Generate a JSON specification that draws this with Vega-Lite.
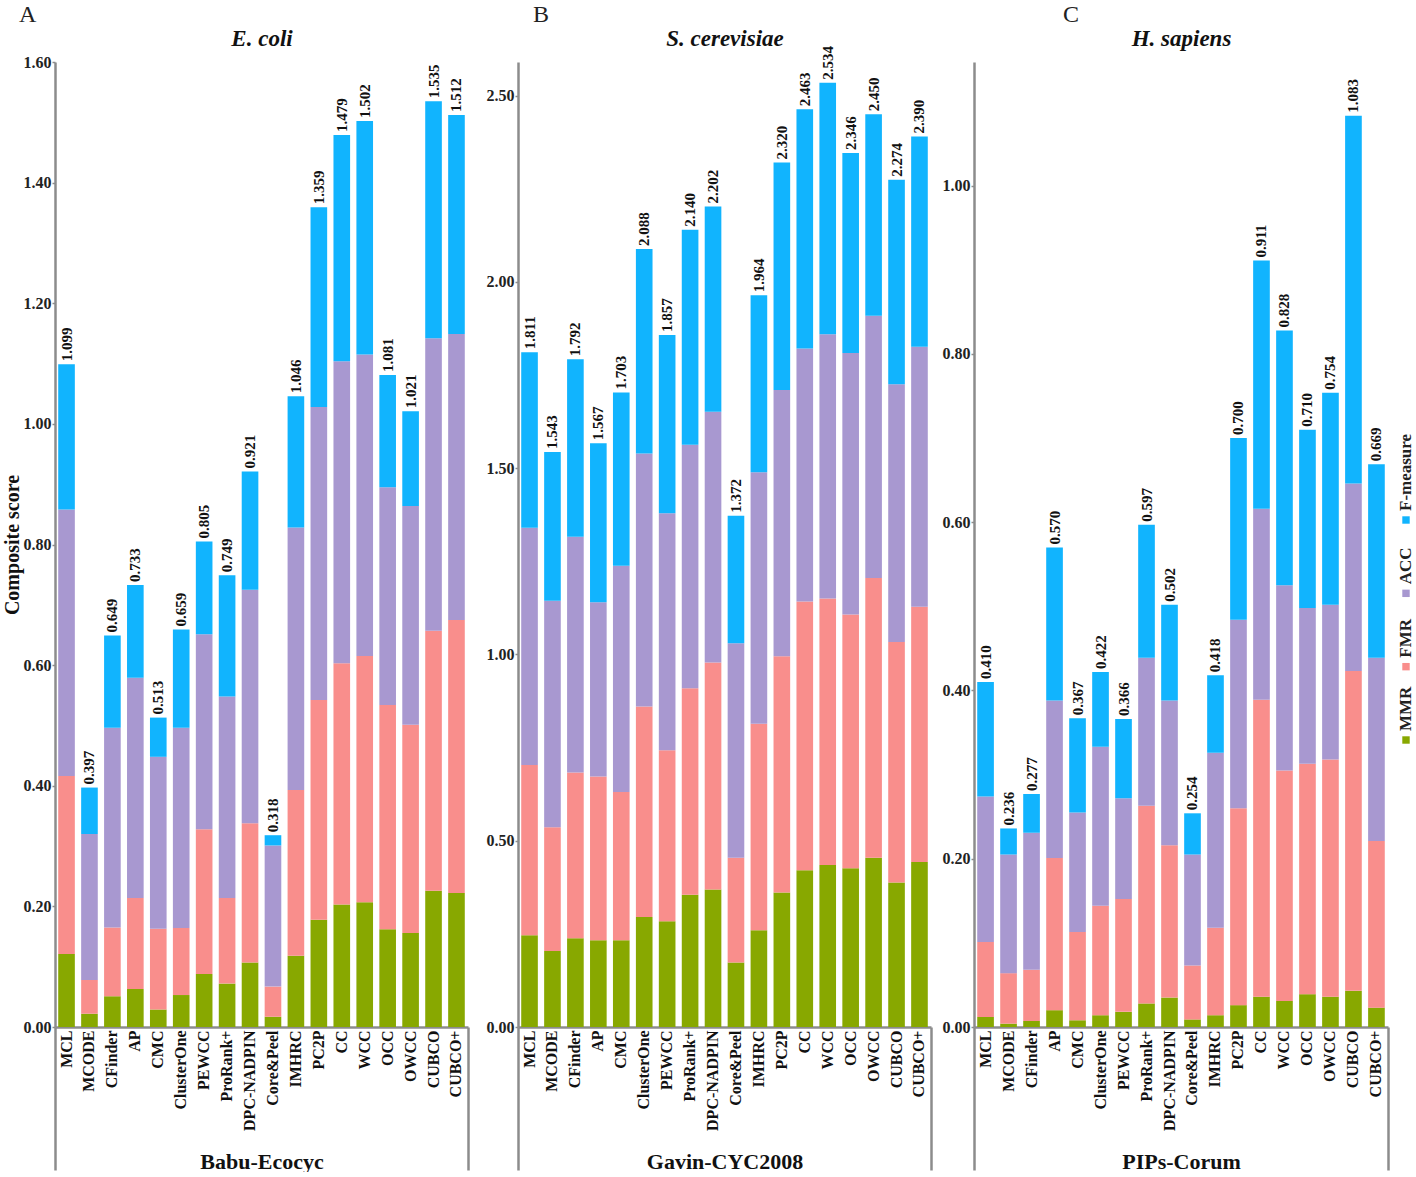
{
  "$schema": "https://vega.github.io/schema/vega-lite/v6.json",
  "padding": {"left": 2, "top": 3, "right": 0, "bottom": 0},
  "background": "white",
  "config": {
    "view": {"stroke": null},
    "font": "Liberation Serif",
    "axis": {"grid": false, "domainColor": "#8c8c8c", "domainWidth": 2.5, "tickColor": "#8c8c8c", "tickWidth": 1.5, "labelFont": "Liberation Serif", "labelFontWeight": "bold", "labelColor": "#222", "titleFont": "Liberation Serif", "titleFontWeight": "bold", "titleColor": "#111"},
    "axisY": {"tickSize": 3, "labelPadding": 1, "labelFontSize": 16},
    "title": {"font": "Liberation Serif"}
  },
  "datasets": {
    "metrics": [
      {"metric": "MMR", "rank": 1},
      {"metric": "FMR", "rank": 2},
      {"metric": "ACC", "rank": 3},
      {"metric": "F-measure", "rank": 4}
    ],
    "scores": [
      {"ds": "Babu-Ecocyc", "method": "MCL", "MMR": 0.121, "FMR": 0.295, "ACC": 0.442, "F-measure": 0.241},
      {"ds": "Babu-Ecocyc", "method": "MCODE", "MMR": 0.022, "FMR": 0.056, "ACC": 0.242, "F-measure": 0.077},
      {"ds": "Babu-Ecocyc", "method": "CFinder", "MMR": 0.051, "FMR": 0.114, "ACC": 0.331, "F-measure": 0.153},
      {"ds": "Babu-Ecocyc", "method": "AP", "MMR": 0.063, "FMR": 0.151, "ACC": 0.365, "F-measure": 0.154},
      {"ds": "Babu-Ecocyc", "method": "CMC", "MMR": 0.029, "FMR": 0.134, "ACC": 0.285, "F-measure": 0.065},
      {"ds": "Babu-Ecocyc", "method": "ClusterOne", "MMR": 0.053, "FMR": 0.111, "ACC": 0.332, "F-measure": 0.163},
      {"ds": "Babu-Ecocyc", "method": "PEWCC", "MMR": 0.088, "FMR": 0.240, "ACC": 0.323, "F-measure": 0.154},
      {"ds": "Babu-Ecocyc", "method": "ProRank+", "MMR": 0.072, "FMR": 0.142, "ACC": 0.334, "F-measure": 0.201},
      {"ds": "Babu-Ecocyc", "method": "DPC-NADPIN", "MMR": 0.107, "FMR": 0.231, "ACC": 0.387, "F-measure": 0.196},
      {"ds": "Babu-Ecocyc", "method": "Core&Peel", "MMR": 0.017, "FMR": 0.050, "ACC": 0.234, "F-measure": 0.017},
      {"ds": "Babu-Ecocyc", "method": "IMHRC", "MMR": 0.118, "FMR": 0.275, "ACC": 0.435, "F-measure": 0.218},
      {"ds": "Babu-Ecocyc", "method": "PC2P", "MMR": 0.178, "FMR": 0.364, "ACC": 0.486, "F-measure": 0.331},
      {"ds": "Babu-Ecocyc", "method": "CC", "MMR": 0.203, "FMR": 0.400, "ACC": 0.501, "F-measure": 0.375},
      {"ds": "Babu-Ecocyc", "method": "WCC", "MMR": 0.207, "FMR": 0.408, "ACC": 0.500, "F-measure": 0.387},
      {"ds": "Babu-Ecocyc", "method": "OCC", "MMR": 0.162, "FMR": 0.372, "ACC": 0.361, "F-measure": 0.186},
      {"ds": "Babu-Ecocyc", "method": "OWCC", "MMR": 0.156, "FMR": 0.345, "ACC": 0.363, "F-measure": 0.157},
      {"ds": "Babu-Ecocyc", "method": "CUBCO", "MMR": 0.226, "FMR": 0.431, "ACC": 0.485, "F-measure": 0.393},
      {"ds": "Babu-Ecocyc", "method": "CUBCO+", "MMR": 0.222, "FMR": 0.453, "ACC": 0.474, "F-measure": 0.363},
      {"ds": "Gavin-CYC2008", "method": "MCL", "MMR": 0.246, "FMR": 0.457, "ACC": 0.637, "F-measure": 0.471},
      {"ds": "Gavin-CYC2008", "method": "MCODE", "MMR": 0.204, "FMR": 0.332, "ACC": 0.608, "F-measure": 0.399},
      {"ds": "Gavin-CYC2008", "method": "CFinder", "MMR": 0.238, "FMR": 0.445, "ACC": 0.633, "F-measure": 0.476},
      {"ds": "Gavin-CYC2008", "method": "AP", "MMR": 0.233, "FMR": 0.439, "ACC": 0.468, "F-measure": 0.427},
      {"ds": "Gavin-CYC2008", "method": "CMC", "MMR": 0.233, "FMR": 0.398, "ACC": 0.607, "F-measure": 0.465},
      {"ds": "Gavin-CYC2008", "method": "ClusterOne", "MMR": 0.295, "FMR": 0.565, "ACC": 0.679, "F-measure": 0.549},
      {"ds": "Gavin-CYC2008", "method": "PEWCC", "MMR": 0.284, "FMR": 0.459, "ACC": 0.636, "F-measure": 0.478},
      {"ds": "Gavin-CYC2008", "method": "ProRank+", "MMR": 0.355, "FMR": 0.554, "ACC": 0.654, "F-measure": 0.577},
      {"ds": "Gavin-CYC2008", "method": "DPC-NADPIN", "MMR": 0.369, "FMR": 0.609, "ACC": 0.673, "F-measure": 0.551},
      {"ds": "Gavin-CYC2008", "method": "Core&Peel", "MMR": 0.173, "FMR": 0.281, "ACC": 0.576, "F-measure": 0.342},
      {"ds": "Gavin-CYC2008", "method": "IMHRC", "MMR": 0.260, "FMR": 0.554, "ACC": 0.675, "F-measure": 0.475},
      {"ds": "Gavin-CYC2008", "method": "PC2P", "MMR": 0.361, "FMR": 0.634, "ACC": 0.715, "F-measure": 0.610},
      {"ds": "Gavin-CYC2008", "method": "CC", "MMR": 0.421, "FMR": 0.721, "ACC": 0.679, "F-measure": 0.642},
      {"ds": "Gavin-CYC2008", "method": "WCC", "MMR": 0.435, "FMR": 0.715, "ACC": 0.709, "F-measure": 0.675},
      {"ds": "Gavin-CYC2008", "method": "OCC", "MMR": 0.426, "FMR": 0.681, "ACC": 0.702, "F-measure": 0.537},
      {"ds": "Gavin-CYC2008", "method": "OWCC", "MMR": 0.454, "FMR": 0.751, "ACC": 0.704, "F-measure": 0.541},
      {"ds": "Gavin-CYC2008", "method": "CUBCO", "MMR": 0.388, "FMR": 0.645, "ACC": 0.692, "F-measure": 0.549},
      {"ds": "Gavin-CYC2008", "method": "CUBCO+", "MMR": 0.443, "FMR": 0.685, "ACC": 0.698, "F-measure": 0.564},
      {"ds": "PIPs-Corum", "method": "MCL", "MMR": 0.012, "FMR": 0.089, "ACC": 0.173, "F-measure": 0.136},
      {"ds": "PIPs-Corum", "method": "MCODE", "MMR": 0.004, "FMR": 0.060, "ACC": 0.141, "F-measure": 0.031},
      {"ds": "PIPs-Corum", "method": "CFinder", "MMR": 0.007, "FMR": 0.061, "ACC": 0.163, "F-measure": 0.046},
      {"ds": "PIPs-Corum", "method": "AP", "MMR": 0.020, "FMR": 0.181, "ACC": 0.187, "F-measure": 0.182},
      {"ds": "PIPs-Corum", "method": "CMC", "MMR": 0.008, "FMR": 0.105, "ACC": 0.142, "F-measure": 0.112},
      {"ds": "PIPs-Corum", "method": "ClusterOne", "MMR": 0.014, "FMR": 0.130, "ACC": 0.189, "F-measure": 0.089},
      {"ds": "PIPs-Corum", "method": "PEWCC", "MMR": 0.018, "FMR": 0.134, "ACC": 0.120, "F-measure": 0.094},
      {"ds": "PIPs-Corum", "method": "ProRank+", "MMR": 0.028, "FMR": 0.235, "ACC": 0.176, "F-measure": 0.158},
      {"ds": "PIPs-Corum", "method": "DPC-NADPIN", "MMR": 0.035, "FMR": 0.181, "ACC": 0.172, "F-measure": 0.114},
      {"ds": "PIPs-Corum", "method": "Core&Peel", "MMR": 0.009, "FMR": 0.064, "ACC": 0.132, "F-measure": 0.049},
      {"ds": "PIPs-Corum", "method": "IMHRC", "MMR": 0.014, "FMR": 0.104, "ACC": 0.208, "F-measure": 0.092},
      {"ds": "PIPs-Corum", "method": "PC2P", "MMR": 0.026, "FMR": 0.234, "ACC": 0.224, "F-measure": 0.216},
      {"ds": "PIPs-Corum", "method": "CC", "MMR": 0.036, "FMR": 0.353, "ACC": 0.227, "F-measure": 0.295},
      {"ds": "PIPs-Corum", "method": "WCC", "MMR": 0.031, "FMR": 0.274, "ACC": 0.220, "F-measure": 0.303},
      {"ds": "PIPs-Corum", "method": "OCC", "MMR": 0.039, "FMR": 0.274, "ACC": 0.185, "F-measure": 0.212},
      {"ds": "PIPs-Corum", "method": "OWCC", "MMR": 0.036, "FMR": 0.282, "ACC": 0.184, "F-measure": 0.252},
      {"ds": "PIPs-Corum", "method": "CUBCO", "MMR": 0.043, "FMR": 0.380, "ACC": 0.223, "F-measure": 0.437},
      {"ds": "PIPs-Corum", "method": "CUBCO+", "MMR": 0.023, "FMR": 0.198, "ACC": 0.218, "F-measure": 0.230}
    ]
  },
  "bounds": "flush",
  "spacing": 50,
  "hconcat": [
    {
      "width": 413, "height": 965,
      "title": {"text": "A", "anchor": "start", "frame": "group", "dx": -36, "offset": 0, "fontSize": 24, "fontWeight": "normal", "color": "#222"},
      "data": {"name": "scores"},
      "transform": [{"filter": "datum.ds === 'Babu-Ecocyc'"}, {"fold": ["MMR", "FMR", "ACC", "F-measure"], "as": ["metric", "value"]}],
      "layer": [
        {
          "transform": [{"lookup": "metric", "from": {"data": {"name": "metrics"}, "key": "metric", "fields": ["rank"]}}],
          "mark": {"type": "bar"},
          "encoding": {
            "x": {"field": "method", "type": "nominal", "sort": null, "scale": {"paddingInner": 0.275, "paddingOuter": 0.14},
              "axis": {"title": "Babu-Ecocyc", "titleFontSize": 22, "titleY": 124, "labelAngle": -90, "labelFontSize": 16, "labelColor": "#111", "ticks": false, "labelPadding": 3}},
            "y": {"field": "value", "type": "quantitative", "stack": "zero", "scale": {"domain": [0, 1.6], "nice": false},
              "axis": {"title": "Composite score", "titleFontSize": 20, "titlePadding": 1, "values": [0, 0.2, 0.4, 0.6, 0.8, 1.0, 1.2, 1.4, 1.6], "format": ".2f"}},
            "color": {"field": "metric", "type": "nominal", "scale": {"domain": ["MMR", "FMR", "ACC", "F-measure"], "range": ["#88a800", "#f98e8c", "#a898d0", "#11b4fe"]}, "legend": null},
            "order": {"field": "rank", "type": "quantitative", "sort": "ascending"}
          }
        },
        {
          "transform": [{"aggregate": [{"op": "sum", "field": "value", "as": "total"}], "groupby": ["method"]}],
          "mark": {"type": "text", "angle": 270, "align": "left", "baseline": "middle", "dx": 3, "fontSize": 15, "fontWeight": "bold", "color": "#111"},
          "encoding": {
            "x": {"field": "method", "type": "nominal", "sort": null,
              "axis": {"orient": "top", "title": "E. coli", "labels": false, "ticks": false, "domain": false, "titleFontSize": 23, "titleFontStyle": "italic", "titlePadding": 12}},
            "y": {"field": "total", "type": "quantitative", "scale": {"domain": [0, 1.6], "nice": false},
              "axis": {"title": "Composite score", "titleFontSize": 20, "titlePadding": 1, "values": [0, 0.2, 0.4, 0.6, 0.8, 1.0, 1.2, 1.4, 1.6], "format": ".2f"}},
            "text": {"field": "total", "type": "quantitative", "format": ".3f"}
          }
        },
        {
          "mark": {"type": "text", "opacity": 0},
          "encoding": {
            "x": {"field": "method", "type": "nominal", "sort": null,
              "axis": {"orient": "bottom", "title": null, "labels": false, "domain": false, "bandPosition": 0, "tickOffset": -3.2, "tickSize": 143, "tickWidth": 2.5, "tickColor": "#8c8c8c",
                "tickOpacity": {"condition": {"test": "datum.index === 0", "value": 1}, "value": 0}}},
            "text": {"value": ""}
          }
        },
        {
          "mark": {"type": "text", "opacity": 0},
          "encoding": {
            "x": {"field": "method", "type": "nominal", "sort": null,
              "axis": {"orient": "bottom", "title": null, "labels": false, "domain": false, "bandPosition": 1, "tickOffset": 3.2, "tickSize": 143, "tickWidth": 2.5, "tickColor": "#8c8c8c",
                "tickOpacity": {"condition": {"test": "datum.index === 1", "value": 1}, "value": 0}}},
            "text": {"value": ""}
          }
        }
      ],
      "resolve": {"axis": {"x": "independent"}}
    },
    {
      "bounds": "flush",
      "spacing": 43,
      "hconcat": [
        {
          "width": 413, "height": 965,
          "title": {"text": "B", "anchor": "start", "frame": "group", "dx": 15, "offset": 0, "fontSize": 24, "fontWeight": "normal", "color": "#222"},
          "data": {"name": "scores"},
          "transform": [{"filter": "datum.ds === 'Gavin-CYC2008'"}, {"fold": ["MMR", "FMR", "ACC", "F-measure"], "as": ["metric", "value"]}],
          "layer": [
            {
              "transform": [{"lookup": "metric", "from": {"data": {"name": "metrics"}, "key": "metric", "fields": ["rank"]}}],
              "mark": {"type": "bar"},
              "encoding": {
                "x": {"field": "method", "type": "nominal", "sort": null, "scale": {"paddingInner": 0.275, "paddingOuter": 0.14},
                  "axis": {"title": "Gavin-CYC2008", "titleFontSize": 22, "titleY": 124, "labelAngle": -90, "labelFontSize": 16, "labelColor": "#111", "ticks": false, "labelPadding": 3}},
                "y": {"field": "value", "type": "quantitative", "stack": "zero", "scale": {"domain": [0, 2.59], "nice": false},
                  "axis": {"title": null, "values": [0, 0.5, 1.0, 1.5, 2.0, 2.5], "format": ".2f"}},
                "color": {"field": "metric", "type": "nominal", "scale": {"domain": ["MMR", "FMR", "ACC", "F-measure"], "range": ["#88a800", "#f98e8c", "#a898d0", "#11b4fe"]}, "legend": null},
                "order": {"field": "rank", "type": "quantitative", "sort": "ascending"}
              }
            },
            {
              "transform": [{"aggregate": [{"op": "sum", "field": "value", "as": "total"}], "groupby": ["method"]}],
              "mark": {"type": "text", "angle": 270, "align": "left", "baseline": "middle", "dx": 3, "fontSize": 15, "fontWeight": "bold", "color": "#111"},
              "encoding": {
                "x": {"field": "method", "type": "nominal", "sort": null,
                  "axis": {"orient": "top", "title": "S. cerevisiae", "labels": false, "ticks": false, "domain": false, "titleFontSize": 23, "titleFontStyle": "italic", "titlePadding": 12}},
                "y": {"field": "total", "type": "quantitative", "scale": {"domain": [0, 2.59], "nice": false},
                  "axis": {"title": null, "values": [0, 0.5, 1.0, 1.5, 2.0, 2.5], "format": ".2f"}},
                "text": {"field": "total", "type": "quantitative", "format": ".3f"}
              }
            },
            {
              "mark": {"type": "text", "opacity": 0},
              "encoding": {
                "x": {"field": "method", "type": "nominal", "sort": null,
                  "axis": {"orient": "bottom", "title": null, "labels": false, "domain": false, "bandPosition": 0, "tickOffset": -3.2, "tickSize": 143, "tickWidth": 2.5, "tickColor": "#8c8c8c",
                    "tickOpacity": {"condition": {"test": "datum.index === 0", "value": 1}, "value": 0}}},
                "text": {"value": ""}
              }
            },
            {
              "mark": {"type": "text", "opacity": 0},
              "encoding": {
                "x": {"field": "method", "type": "nominal", "sort": null,
                  "axis": {"orient": "bottom", "title": null, "labels": false, "domain": false, "bandPosition": 1, "tickOffset": 3.2, "tickSize": 143, "tickWidth": 2.5, "tickColor": "#8c8c8c",
                    "tickOpacity": {"condition": {"test": "datum.index === 1", "value": 1}, "value": 0}}},
                "text": {"value": ""}
              }
            }
          ],
          "resolve": {"axis": {"x": "independent"}}
        },
        {
          "bounds": "flush",
          "spacing": 10,
          "hconcat": [
            {
              "width": 414, "height": 965,
              "title": {"text": "C", "anchor": "start", "frame": "group", "dx": 89, "offset": 0, "fontSize": 24, "fontWeight": "normal", "color": "#222"},
              "data": {"name": "scores"},
              "transform": [{"filter": "datum.ds === 'PIPs-Corum'"}, {"fold": ["MMR", "FMR", "ACC", "F-measure"], "as": ["metric", "value"]}],
              "layer": [
                {
                  "transform": [{"lookup": "metric", "from": {"data": {"name": "metrics"}, "key": "metric", "fields": ["rank"]}}],
                  "mark": {"type": "bar"},
                  "encoding": {
                    "x": {"field": "method", "type": "nominal", "sort": null, "scale": {"paddingInner": 0.275, "paddingOuter": 0.14},
                      "axis": {"title": "PIPs-Corum", "titleFontSize": 22, "titleY": 124, "labelAngle": -90, "labelFontSize": 16, "labelColor": "#111", "ticks": false, "labelPadding": 3}},
                    "y": {"field": "value", "type": "quantitative", "stack": "zero", "scale": {"domain": [0, 1.147], "nice": false},
                      "axis": {"title": null, "values": [0, 0.2, 0.4, 0.6, 0.8, 1.0], "format": ".2f"}},
                    "color": {"field": "metric", "type": "nominal", "scale": {"domain": ["MMR", "FMR", "ACC", "F-measure"], "range": ["#88a800", "#f98e8c", "#a898d0", "#11b4fe"]}, "legend": null},
                    "order": {"field": "rank", "type": "quantitative", "sort": "ascending"}
                  }
                },
                {
                  "transform": [{"aggregate": [{"op": "sum", "field": "value", "as": "total"}], "groupby": ["method"]}],
                  "mark": {"type": "text", "angle": 270, "align": "left", "baseline": "middle", "dx": 3, "fontSize": 15, "fontWeight": "bold", "color": "#111"},
                  "encoding": {
                    "x": {"field": "method", "type": "nominal", "sort": null,
                      "axis": {"orient": "top", "title": "H. sapiens", "labels": false, "ticks": false, "domain": false, "titleFontSize": 23, "titleFontStyle": "italic", "titlePadding": 12}},
                    "y": {"field": "total", "type": "quantitative", "scale": {"domain": [0, 1.147], "nice": false},
                      "axis": {"title": null, "values": [0, 0.2, 0.4, 0.6, 0.8, 1.0], "format": ".2f"}},
                    "text": {"field": "total", "type": "quantitative", "format": ".3f"}
                  }
                },
                {
                  "mark": {"type": "text", "opacity": 0},
                  "encoding": {
                    "x": {"field": "method", "type": "nominal", "sort": null,
                      "axis": {"orient": "bottom", "title": null, "labels": false, "domain": false, "bandPosition": 0, "tickOffset": -3.2, "tickSize": 143, "tickWidth": 2.5, "tickColor": "#8c8c8c",
                        "tickOpacity": {"condition": {"test": "datum.index === 0", "value": 1}, "value": 0}}},
                    "text": {"value": ""}
                  }
                },
                {
                  "mark": {"type": "text", "opacity": 0},
                  "encoding": {
                    "x": {"field": "method", "type": "nominal", "sort": null,
                      "axis": {"orient": "bottom", "title": null, "labels": false, "domain": false, "bandPosition": 1, "tickOffset": 3.2, "tickSize": 143, "tickWidth": 2.5, "tickColor": "#8c8c8c",
                        "tickOpacity": {"condition": {"test": "datum.index === 1", "value": 1}, "value": 0}}},
                    "text": {"value": ""}
                  }
                }
              ],
              "resolve": {"axis": {"x": "independent"}}
            },
            {
              "width": 16, "height": 965,
              "data": {"name": "metrics"},
              "layer": [
                {
                  "mark": {"type": "point", "shape": "square", "filled": true, "size": 55, "opacity": 1},
                  "encoding": {
                    "y": {"field": "metric", "type": "nominal", "scale": {"type": "point", "domain": ["F-measure", "ACC", "FMR", "MMR"], "range": [458, 678], "padding": 0}, "axis": null},
                    "color": {"field": "metric", "type": "nominal", "scale": {"domain": ["MMR", "FMR", "ACC", "F-measure"], "range": ["#88a800", "#f98e8c", "#a898d0", "#11b4fe"]}, "legend": null}
                  }
                },
                {
                  "mark": {"type": "text", "angle": 270, "align": "left", "baseline": "middle", "dx": 9, "fontSize": 17, "fontWeight": "bold", "color": "#222"},
                  "encoding": {
                    "y": {"field": "metric", "type": "nominal", "scale": {"type": "point", "domain": ["F-measure", "ACC", "FMR", "MMR"], "range": [458, 678], "padding": 0}, "axis": null},
                    "text": {"field": "metric", "type": "nominal"}
                  }
                }
              ]
            }
          ]
        }
      ]
    }
  ]
}
